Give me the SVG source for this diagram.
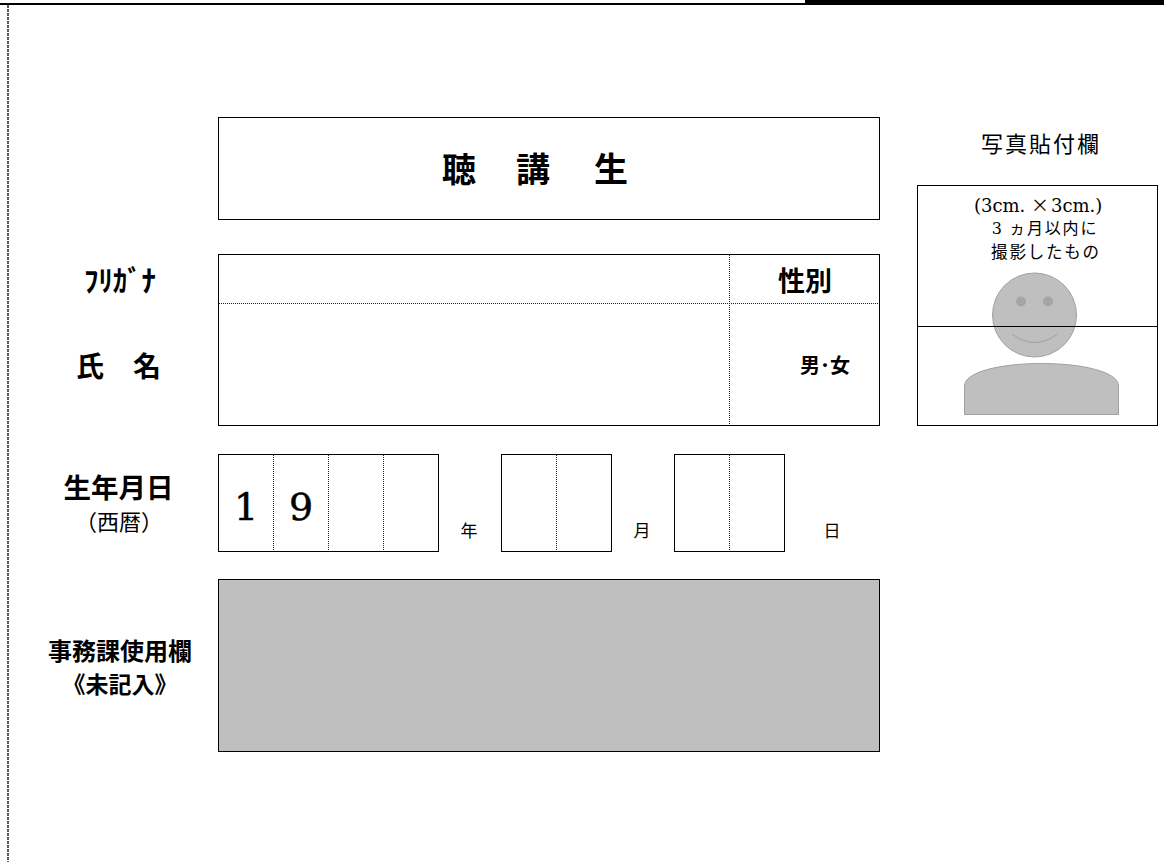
<svg xmlns="http://www.w3.org/2000/svg" width="1164" height="862" viewBox="0 0 1164 862">
<style>
text{font-family:"Noto Sans CJK JP","Liberation Sans",sans-serif;fill:#000}
.s{font-family:"DejaVu Serif","Noto Sans CJK JP",serif}
.b{font-weight:700}
.m{text-anchor:middle}
.box{fill:#fff;stroke:#000;stroke-width:1}
.dot{fill:none;stroke:#222;stroke-width:1;stroke-dasharray:1 1}
.fig{fill:#bfbfbf;stroke:#a0a0a0;stroke-width:1}
.num{stroke:#000;stroke-width:.5}
</style>
<rect width="1164" height="862" fill="#fff"/>
<g id="page-frame">
<rect x="0" y="3" width="805" height="2" fill="#000"/>
<rect x="805" y="0" width="359" height="5" fill="#000"/>
<line x1="8" y1="5" x2="8" y2="862" stroke="#222" stroke-width="1.500" stroke-dasharray="3 1"/>
</g>
<g id="title">
<rect class="box" x="218.500" y="117.500" width="661" height="102"/>
<text class="b" x="442 516 594" y="182" font-size="34">聴講生</text>
</g>
<g id="photo">
<text class="m" x="1041" y="152" font-size="22" letter-spacing="2">写真貼付欄</text>
<rect class="box" x="917.500" y="185.500" width="240" height="240"/>
<text class="s" y="212" font-size="18"><tspan x="974">(3cm.</tspan><tspan x="1031" font-family="Noto Sans CJK JP">×</tspan><tspan x="1051">3cm.)</tspan></text>
<text class="m" x="1045" y="234" font-size="16" letter-spacing="1.800"><tspan class="s">3</tspan> ヵ月以内に</text>
<text class="m" x="1046" y="258" font-size="16.500" letter-spacing="1.800">撮影したもの</text>
<circle class="fig" cx="1034.500" cy="315" r="42"/>
<circle cx="1021" cy="301.500" r="5" fill="#a5a5a5"/>
<circle cx="1048" cy="301.500" r="5" fill="#a5a5a5"/>
<path d="M1012 334Q1035 351 1057.500 334" fill="none" stroke="#a0a0a0" stroke-width="1"/>
<path class="fig" d="M964.500 414.500V386C964.500 372 1000 363.500 1041.500 363.500S1118.500 372 1118.500 386V414.500Z"/>
<line x1="917.500" y1="326.500" x2="1157.500" y2="326.500" stroke="#000" stroke-width="1"/>
</g>
<g id="name-form">
<rect class="box" x="218.500" y="254.500" width="661" height="171"/>
<line class="dot" x1="219" y1="303.500" x2="879" y2="303.500"/>
<line class="dot" x1="729.500" y1="255" x2="729.500" y2="425"/>
<text class="b" x="84" y="292" font-size="29" textLength="72" lengthAdjust="spacingAndGlyphs">ﾌﾘｶﾞﾅ</text>
<text class="b" x="76 133" y="377" font-size="28">氏名</text>
<text class="b m" x="805" y="291" font-size="27">性別</text>
<text class="b m" x="825" y="373" font-size="20">男･女</text>
</g>
<g id="birth">
<text class="b m" x="118.500" y="498" font-size="27.500">生年月日</text>
<text class="m" x="119" y="530" font-size="22">（西暦）</text>
<rect class="box" x="218.500" y="454.500" width="220" height="97"/>
<line class="dot" x1="273.500" y1="455" x2="273.500" y2="551"/>
<line class="dot" x1="328.500" y1="455" x2="328.500" y2="551"/>
<line class="dot" x1="383.500" y1="455" x2="383.500" y2="551"/>
<text class="s m num" x="246" y="520" font-size="38">1</text>
<text class="s m num" x="301" y="520" font-size="38">9</text>
<text class="m" x="469" y="537" font-size="17">年</text>
<rect class="box" x="501.500" y="454.500" width="110" height="97"/>
<line class="dot" x1="556.500" y1="455" x2="556.500" y2="551"/>
<text class="m" x="642" y="537" font-size="17">月</text>
<rect class="box" x="674.500" y="454.500" width="110" height="97"/>
<line class="dot" x1="729.500" y1="455" x2="729.500" y2="551"/>
<text class="m" x="832" y="537" font-size="17">日</text>
</g>
<g id="office">
<rect x="218.500" y="579.500" width="661" height="172" fill="#bfbfbf" stroke="#000" stroke-width="1"/>
<text class="b m" x="120" y="660" font-size="24" textLength="144" lengthAdjust="spacingAndGlyphs">事務課使用欄</text>
<text class="b m" x="120" y="693" font-size="23">《未記入》</text>
</g>
</svg>
